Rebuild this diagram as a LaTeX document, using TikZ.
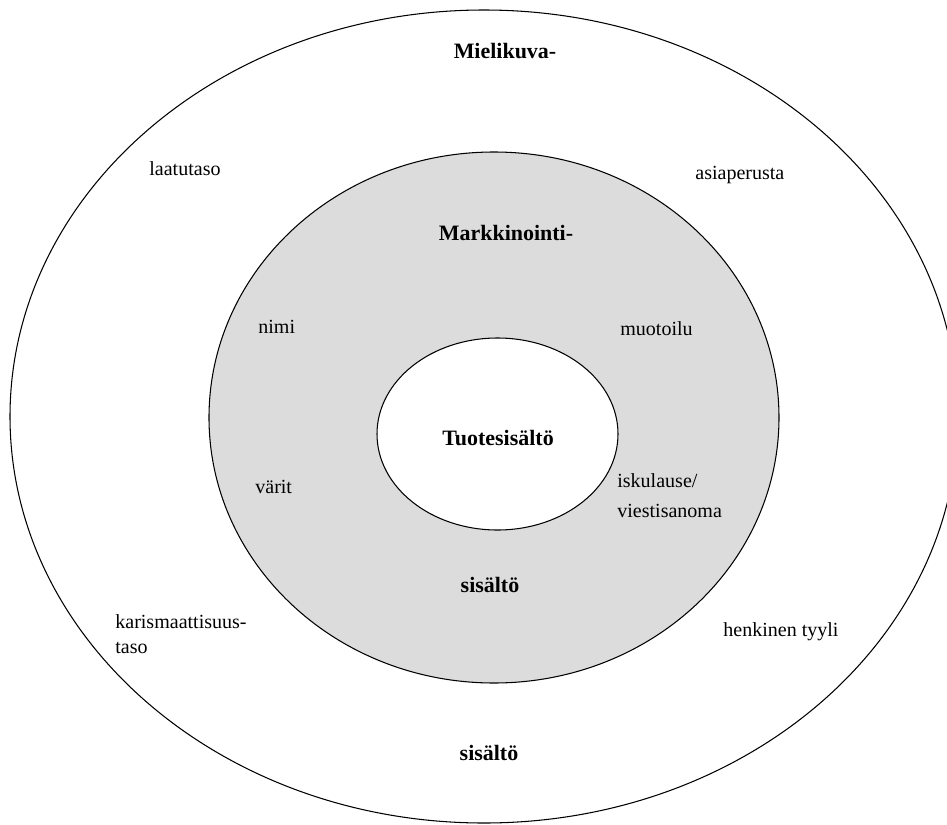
\documentclass[tikz,border=0pt]{standalone}
\usepackage{fontspec}
\setmainfont{Liberation Serif}
\usepackage{tikz}

\definecolor{gris}{RGB}{220,220,220}

\begin{document}
\begin{tikzpicture}[x=0.02cm,y=-0.02cm]
	\tikzstyle{mot}=[anchor=base west,inner sep=0pt,align=left,font=\fontsize{11.4}{14.2}\selectfont]
	\tikzstyle{titre}=[anchor=base,inner sep=0pt,font=\fontsize{12.5}{15}\selectfont\bfseries]
	\tikzstyle{bord}=[draw=black,line width=0.6pt]
	\useasboundingbox (0,0) rectangle (947,825);
	\clip (0,0) rectangle (947,825);
	% les trois niveaux
	\draw[bord,fill=white] (484,416.5) ellipse [x radius=474,y radius=406.5];
	\draw[bord,fill=gris] (494,417.5) ellipse [x radius=285,y radius=265.5];
	\draw[bord,fill=white] (497.5,434) ellipse [x radius=120.5,y radius=96];

	\node[titre] (A) at (505,58){Mielikuva-};
	\node[titre] (B) at (489,760){sisältö};
	\node[mot] (C) at (149,175){laatutaso};
	\node[mot] (D) at (695,179){asiaperusta};
	\node[mot] (E) at (115,653){karismaattisuus-\\taso};
	\node[mot] (F) at (723,636){henkinen tyyli};

	\node[titre] (G) at (506,240){Markkinointi-};
	\node[titre] (H) at (490,592){sisältö};
	\node[mot] (I) at (258,333){nimi};
	\node[mot] (J) at (620,335){muotoilu};
	\node[mot] (K) at (255,493){värit};
	\node[mot] (L) at (617,517){iskulause/\\[0.1cm]viestisanoma};

	\node[titre] (M) at (498,445){Tuotesisältö};
\end{tikzpicture}
\end{document}
